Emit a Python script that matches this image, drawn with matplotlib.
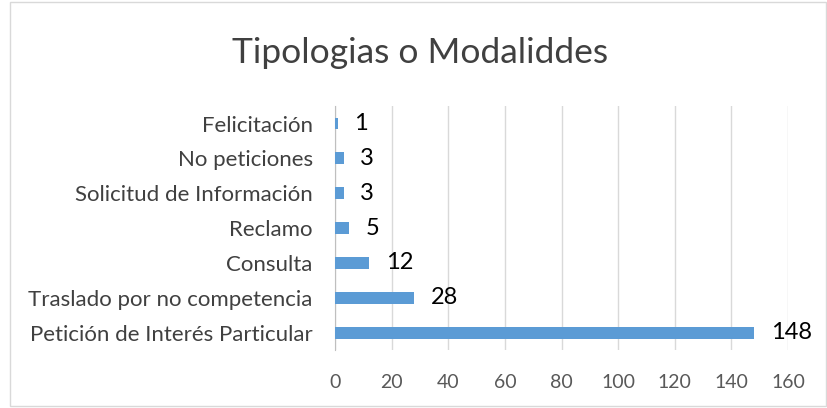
import matplotlib
matplotlib.use("Agg")
import matplotlib.pyplot as plt
from matplotlib.patches import Rectangle

plt.rcParams['font.family'] = ['Lato', 'DejaVu Sans']

categorias = ['Petición de Interés Particular', 'Traslado por no competencia', 'Consulta',
              'Reclamo', 'Solicitud de Información', 'No peticiones', 'Felicitación']
valores = [148, 28, 12, 5, 3, 3, 1]
ticks_x = [0, 20, 40, 60, 80, 100, 120, 140, 160]

fig = plt.figure(figsize=(8.28, 4.08), dpi=100)
ax = fig.add_axes([0.4046, 0.142, 0.5471, 0.598])

barras = ax.barh(categorias, valores, height=0.34, color='#5B9BD5', zorder=3)
for b, v in zip(barras, valores):
    ax.annotate(str(v), (b.get_width(), b.get_y() + b.get_height() / 2),
                xytext=(12, 0), textcoords='offset points',
                va='center', ha='left', fontsize=17, color='black')

ax.set_xlim(0, 160)
ax.set_ylim(-0.5, len(categorias) - 0.5)
ax.set_xticks(ticks_x)
ax.grid(axis='x', color='#D9D9D9', linewidth=1, zorder=0)
for s in ['top', 'right', 'bottom']:
    ax.spines[s].set_visible(False)
ax.spines['left'].set_color('#BFBFBF')
ax.tick_params(axis='x', length=0, labelsize=14, colors='#595959', pad=17)
ax.tick_params(axis='y', length=0, labelsize=16, colors='#404040', pad=16)

fig.text(0.507, 0.87, 'Tipologias o Modaliddes', ha='center', va='center',
         fontsize=25.5, color='#404040')

fig.patches.append(Rectangle((0.012, 0.005), 0.985, 0.99, transform=fig.transFigure,
                             fill=False, edgecolor='#D9D9D9', linewidth=1))

fig.savefig('out.png', dpi=100)
